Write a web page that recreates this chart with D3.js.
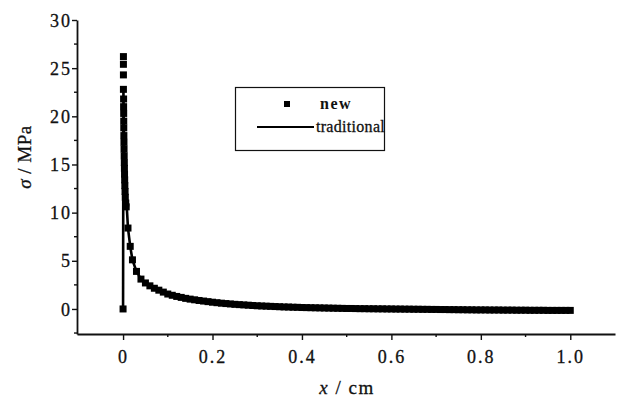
<!DOCTYPE html>
<html>
<head>
<meta charset="utf-8">
<script src="https://cdn.jsdelivr.net/npm/d3@7"></script>
<style>
  body { margin: 0; background: #fff; }
  svg text { font-family: "Liberation Serif", "DejaVu Serif", serif; fill: #111; }
</style>
</head>
<body>
<svg id="chart" width="623" height="398" font-family="Liberation Serif"></svg>
<script>
// "new" series (squares), x in cm, sigma in MPa
const newX = [0, 0.0008, 0.0008, 0.0008, 0.0008, 0.0012, 0.0012, 0.0014, 0.0015, 0.0016, 0.0018,
  0.002, 0.0022, 0.0025, 0.0028, 0.003, 0.0033, 0.0036, 0.004, 0.0045, 0.005, 0.006, 0.007,
  0.011, 0.016, 0.021, 0.03, 0.04, 0.05, 0.06, 0.07, 0.08, 0.09, 0.10,
  0.11, 0.12, 0.13, 0.14, 0.15, 0.16, 0.17, 0.18, 0.19, 0.20,
  0.21, 0.22, 0.23, 0.24, 0.25, 0.26, 0.27, 0.28, 0.29, 0.30,
  0.31, 0.32, 0.33, 0.34, 0.35, 0.36, 0.37, 0.38, 0.39, 0.40,
  0.41, 0.42, 0.43, 0.44, 0.45, 0.46, 0.47, 0.48, 0.49, 0.50,
  0.51, 0.52, 0.53, 0.54, 0.55, 0.56, 0.57, 0.58, 0.59, 0.60,
  0.61, 0.62, 0.63, 0.64, 0.65, 0.66, 0.67, 0.68, 0.69, 0.70,
  0.71, 0.72, 0.73, 0.74, 0.75, 0.76, 0.77, 0.78, 0.79, 0.80,
  0.81, 0.82, 0.83, 0.84, 0.85, 0.86, 0.87, 0.88, 0.89, 0.90,
  0.91, 0.92, 0.93, 0.94, 0.95, 0.96, 0.97, 0.98, 0.99, 1.00];
const newY = [0, 26.2, 25.4, 24.3, 22.8, 21.8, 21.0, 20.3, 19.5, 18.8, 18.0,
  17.3, 16.6, 15.9, 15.2, 14.6, 14.0, 13.4, 12.8, 12.2, 11.6, 11.0, 10.6,
  8.4, 6.5, 5.1, 3.9, 3.1, 2.7, 2.4, 2.15, 1.95, 1.75, 1.55,
  1.42, 1.3, 1.2, 1.1, 1.02, 0.95, 0.88, 0.82, 0.76, 0.7,
  0.65, 0.6, 0.56, 0.52, 0.48, 0.45, 0.42, 0.39, 0.36, 0.33,
  0.31, 0.29, 0.27, 0.25, 0.23, 0.21, 0.2, 0.18, 0.17, 0.15,
  0.14, 0.13, 0.12, 0.11, 0.1, 0.09, 0.08, 0.07, 0.06, 0.05,
  0.05, 0.04, 0.03, 0.03, 0.02, 0.02, 0.01, 0.01, 0.0, 0.0,
  -0.01, -0.01, -0.02, -0.02, -0.03, -0.03, -0.04, -0.04, -0.05, -0.05,
  -0.06, -0.06, -0.07, -0.07, -0.08, -0.08, -0.09, -0.09, -0.1, -0.1,
  -0.1, -0.11, -0.11, -0.11, -0.12, -0.12, -0.12, -0.13, -0.13, -0.13,
  -0.14, -0.14, -0.14, -0.14, -0.15, -0.15, -0.15, -0.15, -0.15, -0.15];

// "traditional" series (solid line)
const tradX = [0, 0.0008, 0.0015, 0.0025, 0.004, 0.006, 0.008, 0.011, 0.016, 0.021, 0.03, 0.04, 0.05,
  0.06, 0.08, 0.10, 0.12, 0.14, 0.16, 0.18, 0.20, 0.25, 0.30, 0.35, 0.40, 0.45, 0.50, 0.60, 0.70, 0.80, 0.90, 1.00];
const tradY = [0, 22.8, 19.8, 16.6, 13.6, 11.6, 10.8, 8.4, 6.5, 5.1, 3.9, 3.1, 2.7,
  2.4, 1.95, 1.55, 1.3, 1.1, 0.95, 0.82, 0.7, 0.48, 0.33, 0.23, 0.15, 0.1, 0.05, 0.0, -0.05, -0.1, -0.14, -0.15];

const xTicks = [0, 0.2, 0.4, 0.6, 0.8, 1.0];
const xMinor = [0.1, 0.3, 0.5, 0.7, 0.9];
const yTicks = [0, 5, 10, 15, 20, 25, 30];
const yMinor = [-2.5, 2.5, 7.5, 12.5, 17.5, 22.5, 27.5];

const svg = d3.select("#chart");
const serif = '"Liberation Serif", "DejaVu Serif", serif';

const x = d3.scaleLinear().domain([-0.103, 1.1]).range([77, 615]);
const y = d3.scaleLinear().domain([-2.6, 30]).range([334, 20]);

// axes
const xAxis = svg.append("g").attr("transform", `translate(0,${y(-2.6)})`);
xAxis.call(d3.axisBottom(x).tickValues(xTicks).tickSize(6).tickSizeOuter(0)
  .tickFormat(d => d === 0 ? "0" : d3.format(".1f")(d)));
xAxis.append("g").selectAll("line").data(xMinor).join("line")
  .attr("x1", d => x(d)).attr("x2", d => x(d))
  .attr("y1", 0).attr("y2", 3).attr("stroke", "#111").attr("stroke-width", 1.4);

const yAxis = svg.append("g").attr("transform", `translate(${x(-0.103)},0)`);
yAxis.call(d3.axisLeft(y).tickValues(yTicks).tickSize(5).tickSizeOuter(0));
yAxis.append("g").selectAll("line").data(yMinor).join("line")
  .attr("y1", d => y(d)).attr("y2", d => y(d))
  .attr("x1", 0).attr("x2", -3).attr("stroke", "#111").attr("stroke-width", 1.4);

svg.selectAll("g").attr("font-family", null).attr("font-size", null);
svg.selectAll(".domain").attr("stroke", "#111").attr("stroke-width", 1.8);
svg.selectAll(".tick line").attr("stroke", "#111").attr("stroke-width", 1.4);
svg.selectAll(".tick text")
  .style("font-family", serif)
  .style("font-size", "18px")
  .style("letter-spacing", "2px")
  .attr("fill", "#111")
  .attr("stroke", "#111")
  .attr("stroke-width", 0.3);
xAxis.selectAll(".tick text").attr("dy", "1em").attr("y", 11);
yAxis.selectAll(".tick text").attr("x", -5).attr("dy", "0.34em");

// traditional line
const line = d3.line().x((d, i) => x(tradX[i])).y((d, i) => y(tradY[i]));
svg.append("path")
  .datum(tradY)
  .attr("fill", "none")
  .attr("stroke", "#000")
  .attr("stroke-width", 2.6)
  .attr("d", line);

// new squares
const sq = 7;
svg.append("g").selectAll("rect")
  .data(newY)
  .join("rect")
  .attr("x", (d, i) => x(newX[i]) - sq / 2)
  .attr("y", d => y(d) - sq / 2)
  .attr("width", sq)
  .attr("height", sq)
  .attr("fill", "#000");

// axis titles
svg.append("text")
  .attr("x", 347).attr("y", 394)
  .attr("text-anchor", "middle")
  .style("font-family", serif)
  .style("font-size", "19px")
  .style("letter-spacing", "1.5px")
  .attr("stroke", "#111").attr("stroke-width", 0.3)
  .html('<tspan font-style="italic">x</tspan> / cm');

svg.append("text")
  .attr("transform", "translate(31,157) rotate(-90)")
  .attr("text-anchor", "middle")
  .style("font-family", serif)
  .style("font-size", "19px")
  .style("letter-spacing", "0.5px")
  .attr("stroke", "#111").attr("stroke-width", 0.3)
  .html('<tspan font-style="italic">σ</tspan> / MPa');

// legend
const lg = svg.append("g");
lg.append("rect")
  .attr("x", 235.5).attr("y", 87.5).attr("width", 149).attr("height", 63)
  .attr("fill", "#fff").attr("stroke", "#111").attr("stroke-width", 1.2);
lg.append("rect")
  .attr("x", 284).attr("y", 101).attr("width", 6).attr("height", 6).attr("fill", "#000");
lg.append("text")
  .attr("x", 320).attr("y", 109)
  .style("font-family", serif)
  .style("font-size", "16px").style("font-weight", "bold").style("letter-spacing", "1.5px")
  .text("new");
lg.append("line")
  .attr("x1", 257).attr("x2", 314).attr("y1", 127).attr("y2", 127)
  .attr("stroke", "#000").attr("stroke-width", 2.2);
lg.append("text")
  .attr("x", 316).attr("y", 132)
  .style("font-family", serif)
  .style("font-size", "16px").style("letter-spacing", "0.3px")
  .attr("stroke", "#111").attr("stroke-width", 0.3)
  .text("traditional");
</script>
</body>
</html>
